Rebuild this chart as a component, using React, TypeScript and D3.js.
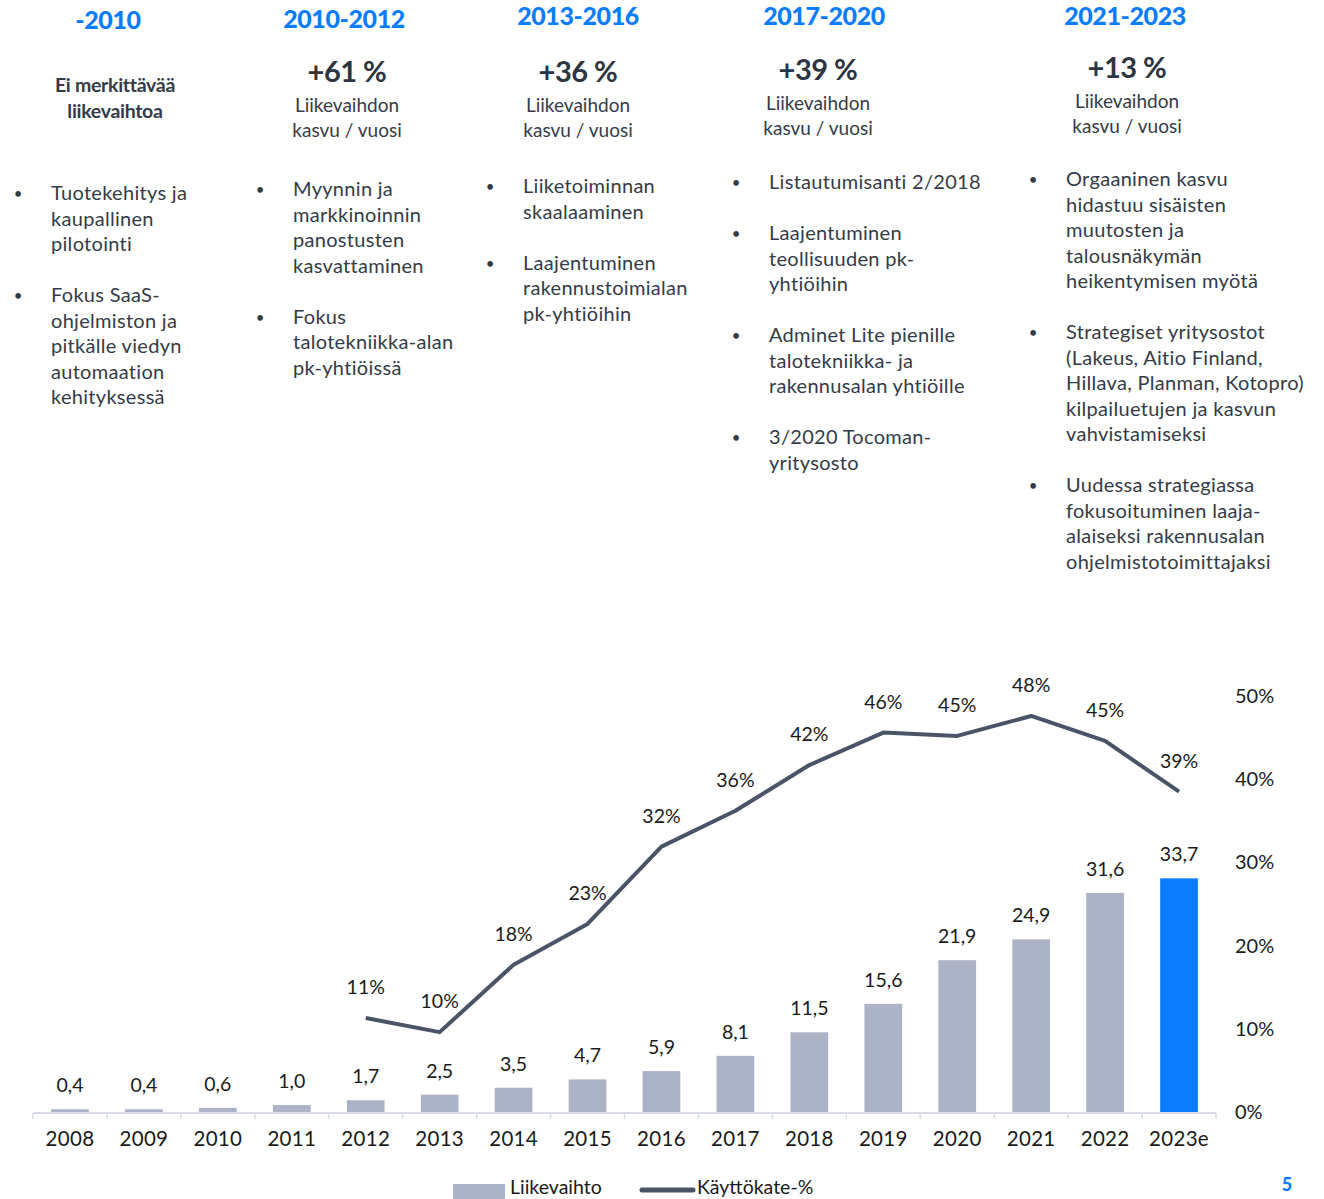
import React from "react";
import * as d3 from "d3";

const years = ["2008","2009","2010","2011","2012","2013","2014","2015","2016","2017","2018","2019","2020","2021","2022","2023e"];
const revenue = [0.4,0.4,0.6,1.0,1.7,2.5,3.5,4.7,5.9,8.1,11.5,15.6,21.9,24.9,31.6,33.7];
const marginYears = ["2012","2013","2014","2015","2016","2017","2018","2019","2020","2021","2022","2023e"];
const marginPct = [11.3,9.6,17.7,22.6,31.9,36.2,41.7,45.6,45.2,47.6,44.6,38.5];
const pctTicks = [0,10,20,30,40,50];

const periods = ["-2010","2010-2012","2013-2016","2017-2020","2021-2023"];
const growth = ["","+61 %","+36 %","+39 %","+13 %"];
const bullets: string[][][] = [
  [["Tuotekehitys ja","kaupallinen","pilotointi"],["Fokus SaaS-","ohjelmiston ja","pitkälle viedyn","automaation","kehityksessä"]],
  [["Myynnin ja","markkinoinnin","panostusten","kasvattaminen"],["Fokus","talotekniikka-alan","pk-yhtiöissä"]],
  [["Liiketoiminnan","skaalaaminen"],["Laajentuminen","rakennustoimialan","pk-yhtiöihin"]],
  [["Listautumisanti 2/2018"],["Laajentuminen","teollisuuden pk-","yhtiöihin"],["Adminet Lite pienille","talotekniikka- ja","rakennusalan yhtiöille"],["3/2020 Tocoman-","yritysosto"]],
  [["Orgaaninen kasvu","hidastuu sisäisten","muutosten ja","talousnäkymän","heikentymisen myötä"],["Strategiset yritysostot","(Lakeus, Aitio Finland,","Hillava, Planman, Kotopro)","kilpailuetujen ja kasvun","vahvistamiseksi"],["Uudessa strategiassa","fokusoituminen laaja-","alaiseksi rakennusalan","ohjelmistotoimittajaksi"]],
];

const FONT = "Lato, 'Open Sans', sans-serif";
const BLUE = "#0a7cff";
const DARK = "#343b47";
const BAR = "#adb3c6";
const LINE = "#4b5467";

const headerX = [108, 344, 578, 824, 1125];
const headerY = [29, 28, 25, 25, 25];
const growthX = [0, 347, 578, 818, 1127];
const growthY = [82, 82, 80, 78];
const bulletX = [18, 260, 490, 736, 1033];
const bulletStartY = [200, 196, 193, 189, 186];

export default function App() {
  const W = 1324, H = 1199;
  const baseY = 1112;
  const x = d3.scaleBand<string>().domain(years).range([33, 1216]).paddingInner(0.49).paddingOuter(0.245);
  const yBar = d3.scaleLinear().domain([0, 60]).range([baseY, 696]);
  const yPct = d3.scaleLinear().domain([0, 50]).range([baseY, 696]);
  const step = x.step();
  const cx = (yr: string) => (x(yr) as number) + x.bandwidth() / 2;
  const linePts: [number, number][] = marginYears.map((yr, i) => [cx(yr), yPct(marginPct[i])]);
  const linePath = d3.line()(linePts) || "";
  const lh = 25.5;

  return (
    <svg width={W} height={H} style={{ position: "absolute", left: 0, top: 0, background: "#fff" }} fontFamily={FONT}>
      {/* headers */}
      {periods.map((p, i) => (
        <text key={p} x={headerX[i]} y={headerY[i]} textAnchor="middle" fill={BLUE} fontWeight={900} fontSize={25} letterSpacing={-0.4}>{p}</text>
      ))}
      <text x={115} y={92} textAnchor="middle" fill={DARK} fontWeight={700} fontSize={19.5} letterSpacing={-0.3}>Ei merkittävää</text>
      <text x={115} y={118} textAnchor="middle" fill={DARK} fontWeight={700} fontSize={19.5} letterSpacing={-0.3}>liikevaihtoa</text>
      {growth.map((g, i) => i === 0 ? null : (
        <g key={g}>
          <text x={growthX[i]} y={growthY[i - 1]} textAnchor="middle" fill="#2d3540" fontWeight={700} fontSize={29} letterSpacing={-0.5}>{g}</text>
          <text x={growthX[i]} y={growthY[i - 1] + 30} textAnchor="middle" fill={DARK} fontSize={19}>Liikevaihdon</text>
          <text x={growthX[i]} y={growthY[i - 1] + 55} textAnchor="middle" fill={DARK} fontSize={19}>kasvu / vuosi</text>
        </g>
      ))}
      {/* bullets */}
      {bullets.map((col, ci) => {
        let line = 0;
        return (
          <g key={ci}>
            {col.map((b, bi) => {
              const start = line;
              line += b.length + 1;
              return (
                <g key={bi}>
                  <text x={bulletX[ci]} y={bulletStartY[ci] + start * lh - 1} fill={DARK} fontSize={15} textAnchor="middle">•</text>
                  {b.map((t, ti) => (
                    <text key={ti} x={bulletX[ci] + 33} y={bulletStartY[ci] + (start + ti) * lh} fill={DARK} fontSize={20} letterSpacing={0.3}>{t}</text>
                  ))}
                </g>
              );
            })}
          </g>
        );
      })}
      {/* bars */}
      {years.map((yr, i) => (
        <rect key={yr} x={x(yr)} y={yBar(revenue[i])} width={x.bandwidth()} height={baseY - yBar(revenue[i])} fill={i === years.length - 1 ? BLUE : BAR} />
      ))}
      {years.map((yr, i) => (
        <text key={"bl" + yr} x={cx(yr)} y={yBar(revenue[i]) - 17} textAnchor="middle" fill="#1a1a1a" fontSize={19.5}>{revenue[i].toFixed(1).replace(".", ",")}</text>
      ))}
      {/* axis */}
      <line x1={33} x2={1216} y1={baseY + 1} y2={baseY + 1} stroke="#d8dce3" strokeWidth={2} />
      {d3.range(years.length + 1).map((k) => (
        <line key={"t" + k} x1={33 + k * step} x2={33 + k * step} y1={baseY + 1} y2={baseY + 7} stroke="#d8dce3" strokeWidth={1.5} />
      ))}
      {years.map((yr) => (
        <text key={"xl" + yr} x={cx(yr)} y={baseY + 34} textAnchor="middle" fill="#1a1a1a" fontSize={20.5} letterSpacing={0.3}>{yr}</text>
      ))}
      {pctTicks.map((t) => (
        <text key={"p" + t} x={1235} y={yPct(t) + 7} fill="#1a1a1a" fontSize={20}>{t}%</text>
      ))}
      {/* line */}
      <path d={linePath} fill="none" stroke={LINE} strokeWidth={4} strokeLinejoin="round" />
      {marginYears.map((yr, i) => (
        <text key={"ml" + yr} x={cx(yr)} y={yPct(marginPct[i]) - 24} textAnchor="middle" fill="#1a1a1a" fontSize={19.5}>{Math.round(marginPct[i])}%</text>
      ))}
      {/* legend */}
      <rect x={453} y={1184} width={52} height={16} fill={BAR} />
      <text x={510} y={1194} fill="#1a1a1a" fontSize={19.5}>Liikevaihto</text>
      <line x1={642} x2={693} y1={1190} y2={1190} stroke={LINE} strokeWidth={5} strokeLinecap="round" />
      <text x={697} y={1194} fill="#1a1a1a" fontSize={19.5}>Käyttökate-%</text>
      <text x={1287} y={1191} textAnchor="middle" fill={BLUE} fontWeight={900} fontSize={18}>5</text>
    </svg>
  );
}
